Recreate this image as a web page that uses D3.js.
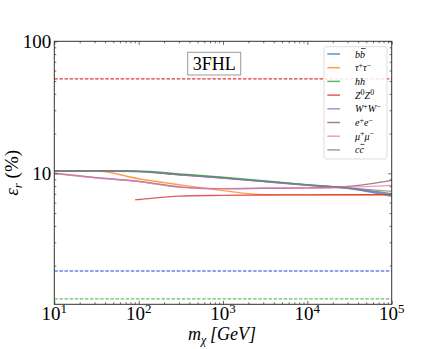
<!DOCTYPE html>
<html>
<head>
<meta charset="utf-8">
<script src="https://cdn.jsdelivr.net/npm/d3@7"></script>
<style>
  body { margin: 0; background: #fff; }
  text { font-family: "Liberation Serif", "DejaVu Serif", serif; }
</style>
</head>
<body>
<div id="chart"></div>
<script>
// Data
const masses = [10, 30, 100, 300, 1000, 3000, 10000, 30000, 100000];
const massesZZ = [91, 100, 300, 1000, 3000, 10000, 30000, 100000];

const bb     = [10.4, 10.45, 10.35, 9.8, 9.25, 8.7, 8.15, 7.7, 6.7];
const tautau = [10.4, 10.45, 9.1, 8.2, 7.4, 6.9, 6.87, 6.87, 6.9];
const hh     = [10.4, 10.45, 10.4, 9.9, 9.35, 8.8, 8.2, 7.75, 7.0];
const ZZ     = [6.3, 6.33, 6.72, 6.8, 6.85, 6.87, 6.88, 6.9];
const WW     = [10.35, 10.4, 10.3, 9.75, 9.2, 8.65, 8.1, 7.7, 6.9];
const ee     = [10.0, 9.3, 8.7, 7.9, 7.65, 7.7, 7.75, 7.95, 8.85];
const mumu   = [9.95, 9.25, 8.65, 7.85, 7.62, 7.72, 7.75, 7.85, 8.1];
const cc     = [10.4, 10.45, 10.3, 9.75, 9.2, 8.7, 8.15, 7.75, 7.3];

const hLines = [52, 1.82, 1.12];
const hColors = ["#e23b3b", "#5f86ee", "#62c462"];

const xTicks = [10, 100, 1000, 10000, 100000];
const yTicks = [10, 100];

const svgWidth = 436, svgHeight = 349;
const margin = { left: 54.3, right: 391.7, top: 41.3, bottom: 304.3 };

const svg = d3.select("#chart")
    .append("svg")
    .attr("width", svgWidth)
    .attr("height", svgHeight);

const x = d3.scaleLog().domain([10, 100000]).range([margin.left, margin.right]);
const y = d3.scaleLog().domain([1.018, 100]).range([margin.bottom, margin.top]);

const minorX = [];
[10, 100, 1000, 10000].forEach(d => { for (let k = 2; k < 10; k++) minorX.push(d * k); });
const minorY = [];
[1, 10].forEach(d => { for (let k = 2; k < 10; k++) if (d * k > 1.018) minorY.push(d * k); });

const series = [
    { name: "bb", m: masses, v: bb, color: "#1f77b4" },
    { name: "tautau", m: masses, v: tautau, color: "#ff7f0e" },
    { name: "hh", m: masses, v: hh, color: "#2ca02c" },
    { name: "ZZ", m: massesZZ, v: ZZ, color: "#d62728" },
    { name: "WW", m: masses, v: WW, color: "#9467bd" },
    { name: "ee", m: masses, v: ee, color: "#8c564b" },
    { name: "mumu", m: masses, v: mumu, color: "#e377c2" },
    { name: "cc", m: masses, v: cc, color: "#7f7f7f" }
];

// dashed reference lines
svg.selectAll(".hline")
    .data(hLines)
    .enter().append("line")
    .attr("x1", margin.left).attr("x2", margin.right)
    .attr("y1", d => y(d)).attr("y2", d => y(d))
    .attr("stroke", (d, i) => hColors[i])
    .attr("stroke-width", 1.3)
    .attr("stroke-dasharray", "3.5,1.6");

const line = d3.line()
    .x(d => x(d[0]))
    .y(d => y(d[1]))
    .curve(d3.curveMonotoneX);

// curves
svg.selectAll(".curve")
    .data(series)
    .enter().append("path")
    .attr("fill", "none")
    .attr("stroke", d => d.color)
    .attr("stroke-opacity", 0.75)
    .attr("stroke-width", 1.4)
    .attr("d", d => line(d.m.map((m, i) => [m, d.v[i]])));

// axes with inward ticks on all sides
function tickStyle(g) {
    g.select(".domain").remove();
    g.selectAll(".tick line").attr("stroke", "#444").attr("stroke-width", 0.8);
}
svg.append("g").attr("transform", `translate(0,${margin.bottom})`)
    .call(d3.axisBottom(x).tickValues(xTicks).tickSize(-3.5).tickFormat("")).call(tickStyle);
svg.append("g").attr("transform", `translate(0,${margin.bottom})`)
    .call(d3.axisBottom(x).tickValues(minorX).tickSize(-2).tickFormat("")).call(tickStyle);
svg.append("g").attr("transform", `translate(0,${margin.top})`)
    .call(d3.axisTop(x).tickValues(xTicks).tickSize(-3.5).tickFormat("")).call(tickStyle);
svg.append("g").attr("transform", `translate(0,${margin.top})`)
    .call(d3.axisTop(x).tickValues(minorX).tickSize(-2).tickFormat("")).call(tickStyle);
svg.append("g").attr("transform", `translate(${margin.left},0)`)
    .call(d3.axisLeft(y).tickValues(yTicks).tickSize(-3.5).tickFormat("")).call(tickStyle);
svg.append("g").attr("transform", `translate(${margin.left},0)`)
    .call(d3.axisLeft(y).tickValues(minorY).tickSize(-2).tickFormat("")).call(tickStyle);
svg.append("g").attr("transform", `translate(${margin.right},0)`)
    .call(d3.axisRight(y).tickValues(yTicks).tickSize(-3.5).tickFormat("")).call(tickStyle);
svg.append("g").attr("transform", `translate(${margin.right},0)`)
    .call(d3.axisRight(y).tickValues(minorY).tickSize(-2).tickFormat("")).call(tickStyle);

// frame
svg.append("rect")
    .attr("x", margin.left).attr("y", margin.top)
    .attr("width", margin.right - margin.left).attr("height", margin.bottom - margin.top)
    .attr("fill", "none").attr("stroke", "#333").attr("stroke-width", 1);

// x tick labels 10^n
const xl = svg.selectAll(".xlab")
    .data(xTicks)
    .enter().append("text")
    .attr("x", d => x(d))
    .attr("y", margin.bottom + 16)
    .attr("text-anchor", "middle")
    .attr("font-size", 19);
xl.append("tspan").text("10");
xl.append("tspan").attr("font-size", 13).attr("dy", -7).text(d => Math.round(Math.log10(d)));

// y tick labels
svg.selectAll(".ylab")
    .data(yTicks)
    .enter().append("text")
    .attr("x", margin.left - 3)
    .attr("y", d => y(d))
    .attr("dy", "0.35em")
    .attr("text-anchor", "end")
    .attr("font-size", 19)
    .text(d => d);

// x axis label
const xt = svg.append("text")
    .attr("x", 222).attr("y", 340)
    .attr("text-anchor", "middle")
    .attr("font-size", 18)
    .attr("font-style", "italic");
xt.append("tspan").text("m");
xt.append("tspan").attr("font-size", 12).attr("dy", 3.5).text("χ");
xt.append("tspan").attr("dy", -3.5).text("\u2009[GeV]");

// y axis label
const yt = svg.append("text")
    .attr("transform", `translate(18,${(margin.top + margin.bottom) / 2}) rotate(-90)`)
    .attr("text-anchor", "middle")
    .attr("font-size", 19);
yt.append("tspan").attr("font-style", "italic").text("ε");
yt.append("tspan").attr("font-style", "italic").attr("font-size", 13).attr("dy", 4).text("r");
yt.append("tspan").attr("dy", -4).text(" (%)");

// 3FHL box
svg.append("rect")
    .attr("x", 187.7).attr("y", 52.3)
    .attr("width", 53).attr("height", 22.7)
    .attr("fill", "#fff").attr("stroke", "#999").attr("stroke-width", 1);
svg.append("text")
    .attr("x", 214.2).attr("y", 70)
    .attr("text-anchor", "middle")
    .attr("font-size", 18)
    .text("3FHL");

// legend
svg.append("rect")
    .attr("x", 324).attr("y", 46.7)
    .attr("width", 63).attr("height", 112.3)
    .attr("rx", 2.5)
    .attr("fill", "#fff").attr("fill-opacity", 0.85)
    .attr("stroke", "#d4d4d4").attr("stroke-width", 0.8);

// [text, dy, overlined]
const labels = [
    [["b", 0], ["b", 0, true]],
    [["τ", 0], ["+", -3.5], ["τ", 3.5], ["−", -3.5]],
    [["hh", 0]],
    [["Z", 0], ["0", -3.5], ["Z", 3.5], ["0", -3.5]],
    [["W", 0], ["+", -3.5], ["W", 3.5], ["−", -3.5]],
    [["e", 0], ["+", -3.5], ["e", 3.5], ["−", -3.5]],
    [["μ", 0], ["+", -3.5], ["μ", 3.5], ["−", -3.5]],
    [["c", 0], ["c", 0, true]]
];

const legend = svg.append("g")
    .selectAll("g")
    .data(series)
    .enter().append("g")
    .attr("transform", (d, i) => `translate(0,${54 + i * 13.7})`);

legend.append("line")
    .attr("x1", 327.3).attr("x2", 340)
    .attr("stroke", d => d.color)
    .attr("stroke-opacity", 0.75)
    .attr("stroke-width", 1.5);

legend.each(function (d, i) {
    const g = d3.select(this);
    const t = g.append("text")
        .attr("x", 355).attr("y", 3.5)
        .attr("font-size", 10)
        .attr("font-style", "italic");
    labels[i].forEach(p => {
        const isSup = p[0] === "+" || p[0] === "−" || p[0] === "0";
        const s = t.append("tspan").text(p[0]).attr("dy", p[1]);
        if (isSup) s.attr("font-size", 8).attr("font-style", "normal");
    });
    // overline bar for antiparticle
    if (labels[i].some(p => p[2])) {
        const box = t.node().getExtentOfChar(1);
        g.append("line")
            .attr("x1", box.x + 1).attr("x2", box.x + box.width + 0.5)
            .attr("y1", -5.5).attr("y2", -5.5)
            .attr("stroke", "#000").attr("stroke-width", 0.7);
    }
});
</script>
</body>
</html>
